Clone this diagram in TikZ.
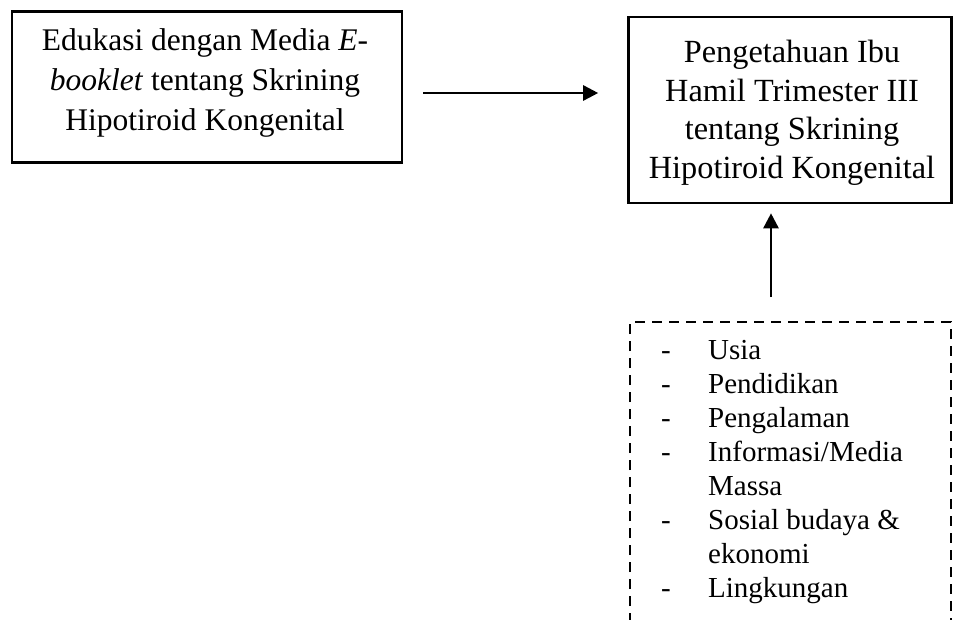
\documentclass[tikz,border=0pt]{standalone}
\usepackage{fontspec}
\setmainfont{Liberation Serif}
\usetikzlibrary{arrows.meta}
\begin{document}
\begin{tikzpicture}[x=1pt,y=-1pt,
  boxstyle/.style={draw, line width=2.6pt, rectangle, inner sep=0pt},
  maintext/.style={align=center, inner sep=0pt, font=\fontsize{31.5}{40}\selectfont},
  maintextb/.style={align=center, inner sep=0pt, font=\fontsize{32.3}{38.5}\selectfont},
  listtext/.style={inner sep=0pt, anchor=base west, font=\fontsize{29}{34}\selectfont},
  arr/.style={line width=2.6pt, -{Triangle[length=15pt,width=15pt]}},
  dashbox/.style={line width=2.5pt, dash pattern=on 10pt off 7pt}]
\useasboundingbox (0,0) rectangle (953,619);
\clip (0,0) rectangle (953,619);
% boxes
\node[boxstyle, minimum width=390pt, minimum height=151.5pt] (b1) at (207,87) {};
\node[maintext, anchor=north] (t1) at (205,28.5) {Edukasi dengan Media \textit{E}-\\\textit{booklet} tentang Skrining\\Hipotiroid Kongenital};
\node[boxstyle, minimum width=323pt, minimum height=186pt] (b2) at (790,110) {};
\node[maintextb, anchor=north] (t2) at (792,40) {Pengetahuan Ibu\\Hamil Trimester III\\tentang Skrining\\Hipotiroid Kongenital};
% dashed factor box (open at the bottom)
\coordinate (fl) at (630,640);
\coordinate (fr) at (951,640);
\draw[dashbox] (fl) -- (630,322) -- (951,322) -- (fr);
% list
\foreach \i/\d/\t in {0/-/Usia, 1/-/Pendidikan, 2/-/Pengalaman, 3/-/Informasi\slash Media, 4//Massa, 5/-/Sosial budaya \&, 6//ekonomi, 7/-/Lingkungan}{
  \node[listtext] (d\i) at (661,{359+34.1*\i}) {\d};
  \node[listtext] (l\i) at (708,{359+34.1*\i}) {\t};
}
% connectors
\coordinate (a1) at ([xshift=20pt,yshift=-6pt]b1.east);
\draw[arr, shorten >=29pt] (a1) -- (a1 -| b2.west);
\coordinate (v1) at (771,297);
\draw[arr, shorten >=9pt] (v1) -- (v1 |- b2.south);
\end{tikzpicture}
\end{document}
